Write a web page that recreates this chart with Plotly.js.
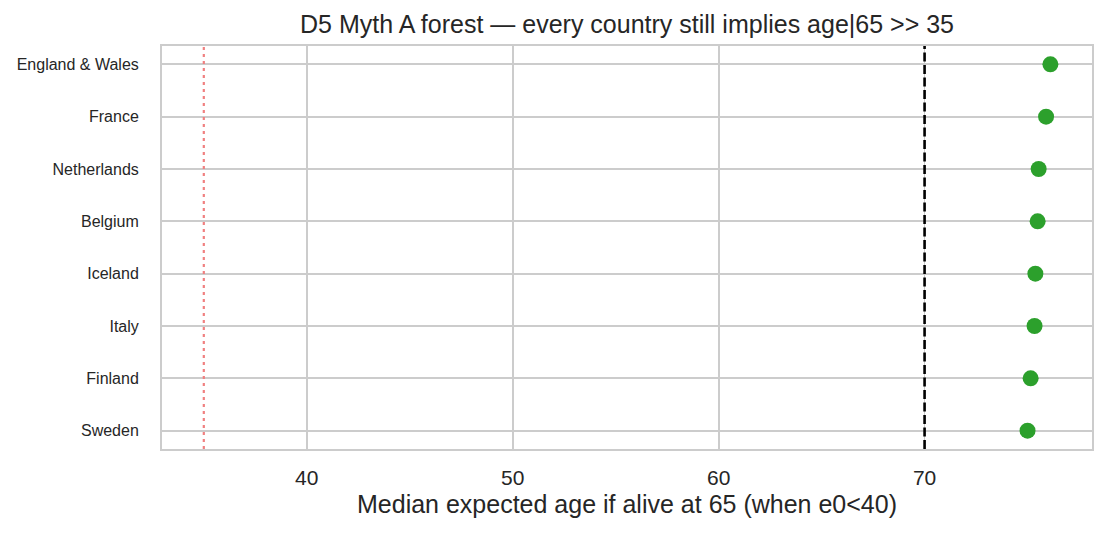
<!DOCTYPE html>
<html><head><meta charset="utf-8">
<script src="https://cdn.plot.ly/plotly-3.0.1.min.js"></script>
<style>body{margin:0;background:#fff}#c{width:1106px;height:535px}</style>
</head><body><div id="c"></div>
<script>
const countries = ["England & Wales","France","Netherlands","Belgium","Iceland","Italy","Finland","Sweden"];
const medianAge = [76.11, 75.90, 75.54, 75.49, 75.38, 75.34, 75.15, 75.00];
const refLineMyth = 35;
const refLineThreshold = 70;
const xTicks = [40, 50, 60, 70];

const font = "Liberation Sans, Arial, sans-serif";
const trace = {
  type: 'scatter', mode: 'markers',
  x: medianAge, y: countries,
  marker: {color: '#2ca02c', size: 16},
  cliponaxis: false, hoverinfo: 'x+y'
};
const layout = {
  width: 1106, height: 535,
  margin: {l: 162, r: 14, t: 46, b: 86},
  paper_bgcolor: '#fff', plot_bgcolor: '#fff',
  font: {family: font, color: '#262626'},
  title: {text: 'D5 Myth A forest — every country still implies age|65 >> 35', font: {size: 25, family: font, color: '#262626'}, xref: 'paper', x: 0.5, xanchor: 'center', y: 0.955, yanchor: 'middle'},
  xaxis: {
    range: [32.97, 78.13], tickvals: xTicks, ticktext: xTicks.map(String),
    showgrid: true, gridcolor: '#cccccc', gridwidth: 1.8, zeroline: false,
    showline: true, mirror: true, linecolor: '#cccccc', linewidth: 2,
    ticks: 'outside', ticklen: 9, tickcolor: 'rgba(0,0,0,0)',
    tickfont: {size: 21, family: font, color: '#262626'},
    title: {text: 'Median expected age if alive at 65 (when e0<40)', font: {size: 25, family: font, color: '#262626'}, standoff: 7}
  },
  yaxis: {
    type: 'category', categoryorder: 'array', categoryarray: countries,
    range: [7.35, -0.35],
    showgrid: true, gridcolor: '#cccccc', gridwidth: 1.8, zeroline: false,
    showline: true, mirror: true, linecolor: '#cccccc', linewidth: 2,
    ticks: 'outside', ticklen: 18, tickcolor: 'rgba(0,0,0,0)',
    tickfont: {size: 16, family: font, color: '#262626'}
  },
  shapes: [
    {type: 'line', xref: 'x', yref: 'paper', x0: refLineMyth, x1: refLineMyth, y0: 0, y1: 1, line: {color: '#f08080', width: 2.2, dash: '3px,4px'}},
    {type: 'line', xref: 'x', yref: 'paper', x0: refLineThreshold, x1: refLineThreshold, y0: 0, y1: 1, line: {color: '#000000', width: 2.6, dash: '9px,3.5px'}}
  ],
  showlegend: false
};
Plotly.newPlot('c', [trace], layout, {displayModeBar: false, staticPlot: true});
</script>
</body></html>
